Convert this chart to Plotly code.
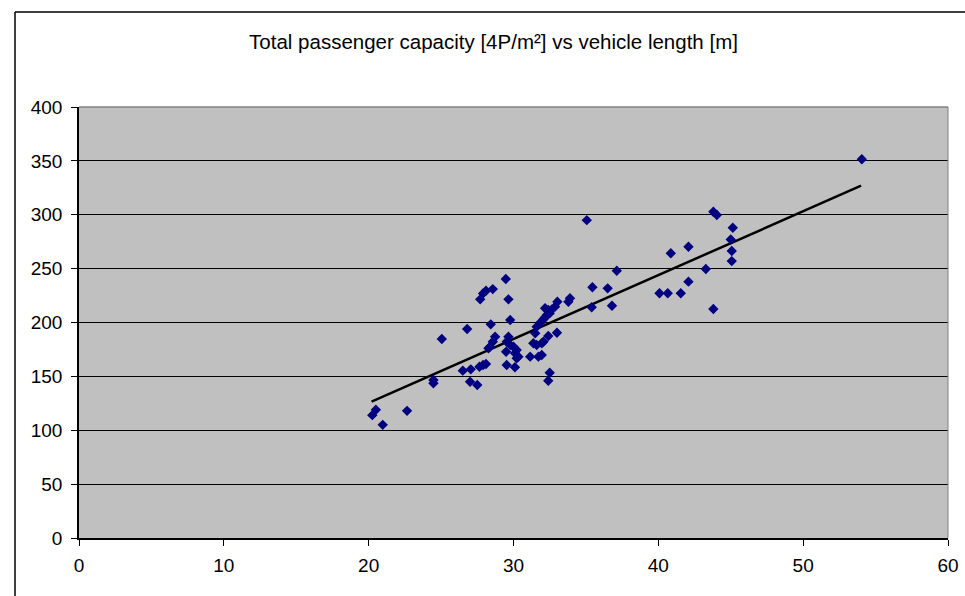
import plotly.graph_objects as go

length_m = [20.25, 20.5, 20.97, 22.65, 24.47, 24.47, 25.05, 26.8, 26.5, 27.05, 27.0, 27.5,
            27.65, 27.9, 28.1, 27.7, 27.9, 28.1, 28.57, 29.47, 29.65, 28.43, 29.77,
            28.73, 28.57, 28.38, 28.27,
            29.65, 29.53, 29.77, 30.0, 30.22, 30.11, 30.34, 29.49, 30.22, 29.53, 30.1,
            31.15, 31.72, 31.95, 31.37, 31.6, 31.95, 32.07, 31.5, 32.4, 33.0,
            31.6, 31.84, 32.07, 32.18, 32.3, 32.5, 32.4, 32.18, 32.65, 32.87, 33.03, 33.79, 33.9,
            32.5, 32.4, 35.45, 36.5, 35.4, 36.8, 37.13,
            54.05, 35.06, 43.8, 44.04, 45.14, 45.0, 45.07, 45.07, 40.86, 42.08, 43.28, 42.08,
            40.08, 40.65, 41.55, 43.8]
capacity = [114, 119, 105, 118, 146.6, 143.6, 184.7, 194, 155.3, 156.5, 145, 142,
            159, 160.5, 161.5, 221.5, 227, 229.5, 231, 240.4, 221.5, 198.3, 202.3,
            186.8, 182.2, 177.5, 176,
            186.8, 182.2, 179.1, 177.5, 174.5, 171.4, 168.3, 172.9, 166.8, 160.5, 158.4,
            168.3, 168.3, 169.8, 180.7, 179.1, 180.7, 182.2, 190, 187.5, 190.5,
            196, 199.8, 203, 204.8, 207, 208.5, 211.6, 213.2, 212.2, 214.7, 219.3, 219.3, 222.5,
            153.4, 146, 232.7, 231.7, 214.1, 215.6, 248,
            351.5, 295, 302.8, 299.8, 288, 277, 266.4, 257, 264.2, 270.3, 249.7, 237.9,
            227.1, 227.1, 227.1, 212.5]

trend_x = [20.2, 54.0]
trend_y = [126.5, 327.0]

x_ticks = [0, 10, 20, 30, 40, 50, 60]
y_ticks = [0, 50, 100, 150, 200, 250, 300, 350, 400]

title_text = "Total passenger capacity [4P/m²] vs vehicle length [m]"

fig = go.Figure()
fig.add_trace(go.Scatter(x=trend_x, y=trend_y, mode="lines",
                         line=dict(color="black", width=2.5), showlegend=False,
                         hoverinfo="skip"))
fig.add_trace(go.Scatter(x=length_m, y=capacity, mode="markers",
                         marker=dict(symbol="diamond", size=8, color="#000080",
                                     line=dict(width=0)),
                         showlegend=False))

fam = "Liberation Sans, Arial, sans-serif"
font = dict(family=fam, size=19, color="black")

fig.update_layout(
    width=965, height=596,
    margin=dict(l=79, r=17, t=107, b=58, autoexpand=False),
    paper_bgcolor="white",
    plot_bgcolor="#C0C0C0",
    font=font,
    title=dict(text=title_text, x=493.5 / 965, xanchor="center",
               y=1 - 42 / 596, yanchor="middle",
               font=dict(family=fam, size=20.5, color="black")),
    xaxis=dict(range=[0, 60], tickvals=x_ticks, showgrid=False, zeroline=False,
               showline=True, linecolor="black", linewidth=1.5,
               ticks="outside", ticklen=6, tickcolor="black", tickwidth=1,
               ticklabelstandoff=3, automargin=False, fixedrange=True),
    yaxis=dict(range=[0, 400], tickvals=y_ticks, showgrid=True, gridcolor="black",
               gridwidth=1, zeroline=False, showline=True, linecolor="black",
               linewidth=1.5, ticks="outside", ticklen=6, tickcolor="black",
               tickwidth=1, ticklabelstandoff=5, automargin=False, fixedrange=True),
    shapes=[
        dict(type="line", xref="paper", yref="paper", x0=1, x1=1, y0=0, y1=1,
             line=dict(color="#808080", width=1)),
        dict(type="line", xref="paper", yref="paper", x0=0, x1=1, y0=1, y1=1,
             line=dict(color="#808080", width=1.5)),
        dict(type="line", xref="paper", yref="paper",
             x0=(15 - 79) / 869, x1=(975 - 79) / 869,
             y0=1 + (107 - 12) / 431, y1=1 + (107 - 12) / 431,
             line=dict(color="black", width=1.5)),
        dict(type="line", xref="paper", yref="paper",
             x0=(15 - 79) / 869, x1=(15 - 79) / 869,
             y0=1 + (107 - 12) / 431, y1=-(600 - 538) / 431,
             line=dict(color="black", width=1.5)),
    ],
)

fig.write_html("out.html", config={"displayModeBar": False},
               post_script="document.body.style.margin='0';document.body.style.overflow='hidden';")
